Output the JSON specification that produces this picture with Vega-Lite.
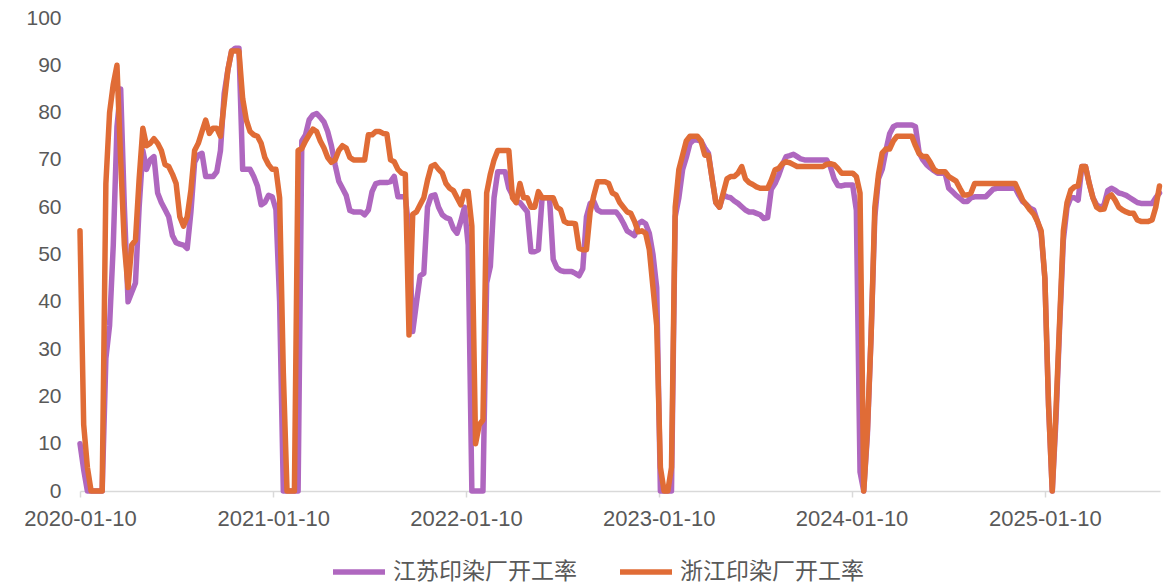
{
"$schema":"https://vega.github.io/schema/vega-lite/v6.json",
"width":1080,"height":473,
"autosize":{"type":"none"},
"padding":{"left":80,"top":18,"right":14,"bottom":92},
"background":"white",
"config":{"view":{"stroke":null},"font":"Liberation Sans"},
"data":{"values":[
{"date":"2020-01-10","jiangsu":10,"zhejiang":55},
{"date":"2020-01-17","jiangsu":4.5,"zhejiang":14},
{"date":"2020-01-24","jiangsu":0,"zhejiang":5},
{"date":"2020-01-31","jiangsu":0,"zhejiang":0},
{"date":"2020-02-07","jiangsu":0,"zhejiang":0},
{"date":"2020-02-14","jiangsu":0,"zhejiang":0},
{"date":"2020-02-21","jiangsu":0,"zhejiang":0},
{"date":"2020-02-28","jiangsu":28,"zhejiang":65},
{"date":"2020-03-06","jiangsu":35,"zhejiang":80},
{"date":"2020-03-13","jiangsu":52,"zhejiang":86},
{"date":"2020-03-20","jiangsu":77,"zhejiang":90},
{"date":"2020-03-27","jiangsu":85,"zhejiang":70},
{"date":"2020-04-03","jiangsu":60,"zhejiang":52},
{"date":"2020-04-10","jiangsu":40,"zhejiang":43},
{"date":"2020-04-17","jiangsu":42,"zhejiang":52},
{"date":"2020-04-24","jiangsu":44,"zhejiang":53},
{"date":"2020-05-01","jiangsu":60,"zhejiang":66},
{"date":"2020-05-08","jiangsu":72,"zhejiang":76.7},
{"date":"2020-05-15","jiangsu":68,"zhejiang":73},
{"date":"2020-05-22","jiangsu":70,"zhejiang":73.5},
{"date":"2020-05-29","jiangsu":70.7,"zhejiang":74.5},
{"date":"2020-06-05","jiangsu":63,"zhejiang":73.5},
{"date":"2020-06-12","jiangsu":61,"zhejiang":72},
{"date":"2020-06-19","jiangsu":59.5,"zhejiang":69},
{"date":"2020-06-26","jiangsu":58,"zhejiang":68.6},
{"date":"2020-07-03","jiangsu":54,"zhejiang":67},
{"date":"2020-07-10","jiangsu":52.5,"zhejiang":65},
{"date":"2020-07-17","jiangsu":52.2,"zhejiang":58},
{"date":"2020-07-24","jiangsu":52,"zhejiang":56},
{"date":"2020-07-31","jiangsu":51.3,"zhejiang":58},
{"date":"2020-08-07","jiangsu":59,"zhejiang":63.6},
{"date":"2020-08-14","jiangsu":69.5,"zhejiang":72},
{"date":"2020-08-21","jiangsu":71,"zhejiang":73.5},
{"date":"2020-08-28","jiangsu":71.4,"zhejiang":76},
{"date":"2020-09-04","jiangsu":66.5,"zhejiang":78.4},
{"date":"2020-09-11","jiangsu":66.5,"zhejiang":75.6},
{"date":"2020-09-18","jiangsu":66.5,"zhejiang":76.7},
{"date":"2020-09-25","jiangsu":67.5,"zhejiang":76.7},
{"date":"2020-10-02","jiangsu":72,"zhejiang":75},
{"date":"2020-10-09","jiangsu":84,"zhejiang":82},
{"date":"2020-10-16","jiangsu":89,"zhejiang":89},
{"date":"2020-10-23","jiangsu":93,"zhejiang":93},
{"date":"2020-10-30","jiangsu":93.6,"zhejiang":93},
{"date":"2020-11-06","jiangsu":93.6,"zhejiang":93},
{"date":"2020-11-13","jiangsu":68,"zhejiang":83},
{"date":"2020-11-20","jiangsu":68,"zhejiang":78.4},
{"date":"2020-11-27","jiangsu":68,"zhejiang":76},
{"date":"2020-12-04","jiangsu":66.5,"zhejiang":75.3},
{"date":"2020-12-11","jiangsu":64.5,"zhejiang":75},
{"date":"2020-12-18","jiangsu":60.5,"zhejiang":73.5},
{"date":"2020-12-25","jiangsu":61,"zhejiang":70.5},
{"date":"2021-01-01","jiangsu":62.5,"zhejiang":69},
{"date":"2021-01-08","jiangsu":62.2,"zhejiang":68},
{"date":"2021-01-15","jiangsu":59.5,"zhejiang":68},
{"date":"2021-01-22","jiangsu":40,"zhejiang":62},
{"date":"2021-01-29","jiangsu":0,"zhejiang":25},
{"date":"2021-02-05","jiangsu":0,"zhejiang":0},
{"date":"2021-02-12","jiangsu":0,"zhejiang":0},
{"date":"2021-02-19","jiangsu":0,"zhejiang":0},
{"date":"2021-02-26","jiangsu":0,"zhejiang":72},
{"date":"2021-03-05","jiangsu":74,"zhejiang":72.4},
{"date":"2021-03-12","jiangsu":75.3,"zhejiang":74},
{"date":"2021-03-19","jiangsu":78.5,"zhejiang":75.3},
{"date":"2021-03-26","jiangsu":79.5,"zhejiang":76.5},
{"date":"2021-04-02","jiangsu":79.8,"zhejiang":76},
{"date":"2021-04-09","jiangsu":79,"zhejiang":74},
{"date":"2021-04-16","jiangsu":78,"zhejiang":72.5},
{"date":"2021-04-23","jiangsu":76,"zhejiang":70.5},
{"date":"2021-04-30","jiangsu":73,"zhejiang":69.5},
{"date":"2021-05-07","jiangsu":69,"zhejiang":70},
{"date":"2021-05-14","jiangsu":65.5,"zhejiang":72},
{"date":"2021-05-21","jiangsu":64,"zhejiang":73},
{"date":"2021-05-28","jiangsu":62.5,"zhejiang":72.5},
{"date":"2021-06-04","jiangsu":59.3,"zhejiang":70.5},
{"date":"2021-06-11","jiangsu":59,"zhejiang":70},
{"date":"2021-06-18","jiangsu":59,"zhejiang":70},
{"date":"2021-06-25","jiangsu":59,"zhejiang":70},
{"date":"2021-07-02","jiangsu":58.4,"zhejiang":70},
{"date":"2021-07-09","jiangsu":59.4,"zhejiang":75.3},
{"date":"2021-07-16","jiangsu":63.3,"zhejiang":75.3},
{"date":"2021-07-23","jiangsu":65,"zhejiang":76},
{"date":"2021-07-30","jiangsu":65.2,"zhejiang":76},
{"date":"2021-08-06","jiangsu":65.2,"zhejiang":75.6},
{"date":"2021-08-13","jiangsu":65.2,"zhejiang":75.5},
{"date":"2021-08-20","jiangsu":65.4,"zhejiang":70},
{"date":"2021-08-27","jiangsu":66.5,"zhejiang":69.6},
{"date":"2021-09-03","jiangsu":62.2,"zhejiang":68},
{"date":"2021-09-10","jiangsu":62.2,"zhejiang":67.2},
{"date":"2021-09-17","jiangsu":62.2,"zhejiang":67},
{"date":"2021-09-24","jiangsu":55,"zhejiang":33},
{"date":"2021-10-01","jiangsu":33.7,"zhejiang":58.5},
{"date":"2021-10-08","jiangsu":39.7,"zhejiang":59},
{"date":"2021-10-15","jiangsu":45.5,"zhejiang":60.5},
{"date":"2021-10-22","jiangsu":46,"zhejiang":62},
{"date":"2021-10-29","jiangsu":60,"zhejiang":65.7},
{"date":"2021-11-05","jiangsu":62.4,"zhejiang":68.6},
{"date":"2021-11-12","jiangsu":62.6,"zhejiang":69},
{"date":"2021-11-19","jiangsu":60,"zhejiang":68},
{"date":"2021-11-26","jiangsu":58.4,"zhejiang":67.2},
{"date":"2021-12-03","jiangsu":57.8,"zhejiang":65},
{"date":"2021-12-10","jiangsu":57.5,"zhejiang":64},
{"date":"2021-12-17","jiangsu":55.5,"zhejiang":63.5},
{"date":"2021-12-24","jiangsu":54.5,"zhejiang":62},
{"date":"2021-12-31","jiangsu":57,"zhejiang":60.5},
{"date":"2022-01-07","jiangsu":60,"zhejiang":63.3},
{"date":"2022-01-14","jiangsu":52,"zhejiang":63.3},
{"date":"2022-01-21","jiangsu":0,"zhejiang":56},
{"date":"2022-01-28","jiangsu":0,"zhejiang":10},
{"date":"2022-02-04","jiangsu":0,"zhejiang":14},
{"date":"2022-02-11","jiangsu":0,"zhejiang":15},
{"date":"2022-02-18","jiangsu":44,"zhejiang":63},
{"date":"2022-02-25","jiangsu":47.5,"zhejiang":67},
{"date":"2022-03-04","jiangsu":62,"zhejiang":70},
{"date":"2022-03-11","jiangsu":67.5,"zhejiang":72},
{"date":"2022-03-18","jiangsu":67.5,"zhejiang":72},
{"date":"2022-03-25","jiangsu":67.5,"zhejiang":72},
{"date":"2022-04-01","jiangsu":64,"zhejiang":72},
{"date":"2022-04-08","jiangsu":62.5,"zhejiang":62},
{"date":"2022-04-15","jiangsu":61,"zhejiang":61},
{"date":"2022-04-22","jiangsu":61,"zhejiang":65},
{"date":"2022-04-29","jiangsu":60,"zhejiang":62},
{"date":"2022-05-06","jiangsu":59,"zhejiang":62},
{"date":"2022-05-13","jiangsu":50.6,"zhejiang":60},
{"date":"2022-05-20","jiangsu":50.6,"zhejiang":60},
{"date":"2022-05-27","jiangsu":51,"zhejiang":63.3},
{"date":"2022-06-03","jiangsu":62,"zhejiang":62},
{"date":"2022-06-10","jiangsu":62,"zhejiang":62},
{"date":"2022-06-17","jiangsu":62,"zhejiang":62},
{"date":"2022-06-24","jiangsu":49,"zhejiang":62},
{"date":"2022-07-01","jiangsu":47.2,"zhejiang":60},
{"date":"2022-07-08","jiangsu":46.6,"zhejiang":59.5},
{"date":"2022-07-15","jiangsu":46.4,"zhejiang":57},
{"date":"2022-07-22","jiangsu":46.4,"zhejiang":56.6},
{"date":"2022-07-29","jiangsu":46.4,"zhejiang":56.6},
{"date":"2022-08-05","jiangsu":46,"zhejiang":56.5},
{"date":"2022-08-12","jiangsu":45.5,"zhejiang":51.3},
{"date":"2022-08-19","jiangsu":47,"zhejiang":51},
{"date":"2022-08-26","jiangsu":58,"zhejiang":51},
{"date":"2022-09-02","jiangsu":60.8,"zhejiang":59},
{"date":"2022-09-09","jiangsu":61.2,"zhejiang":62.5},
{"date":"2022-09-16","jiangsu":59.4,"zhejiang":65.4},
{"date":"2022-09-23","jiangsu":59,"zhejiang":65.4},
{"date":"2022-09-30","jiangsu":59,"zhejiang":65.4},
{"date":"2022-10-07","jiangsu":59,"zhejiang":65},
{"date":"2022-10-14","jiangsu":59,"zhejiang":63},
{"date":"2022-10-21","jiangsu":59,"zhejiang":62.6},
{"date":"2022-10-28","jiangsu":58,"zhejiang":61},
{"date":"2022-11-04","jiangsu":56.6,"zhejiang":60},
{"date":"2022-11-11","jiangsu":55,"zhejiang":59},
{"date":"2022-11-18","jiangsu":54.5,"zhejiang":58.7},
{"date":"2022-11-25","jiangsu":54,"zhejiang":57},
{"date":"2022-12-02","jiangsu":56.5,"zhejiang":54.8},
{"date":"2022-12-09","jiangsu":57,"zhejiang":55},
{"date":"2022-12-16","jiangsu":56.5,"zhejiang":54.5},
{"date":"2022-12-23","jiangsu":54.5,"zhejiang":51},
{"date":"2022-12-30","jiangsu":50,"zhejiang":43},
{"date":"2023-01-06","jiangsu":43,"zhejiang":35},
{"date":"2023-01-13","jiangsu":0,"zhejiang":5},
{"date":"2023-01-20","jiangsu":0,"zhejiang":0},
{"date":"2023-01-27","jiangsu":0,"zhejiang":0},
{"date":"2023-02-03","jiangsu":0,"zhejiang":5},
{"date":"2023-02-10","jiangsu":58,"zhejiang":60},
{"date":"2023-02-17","jiangsu":62,"zhejiang":68},
{"date":"2023-02-24","jiangsu":67.9,"zhejiang":71},
{"date":"2023-03-03","jiangsu":70.5,"zhejiang":74},
{"date":"2023-03-10","jiangsu":73.5,"zhejiang":75},
{"date":"2023-03-17","jiangsu":74.2,"zhejiang":75},
{"date":"2023-03-24","jiangsu":74.2,"zhejiang":75},
{"date":"2023-03-31","jiangsu":74,"zhejiang":74},
{"date":"2023-04-07","jiangsu":72.5,"zhejiang":71},
{"date":"2023-04-14","jiangsu":71.4,"zhejiang":71},
{"date":"2023-04-21","jiangsu":66,"zhejiang":66},
{"date":"2023-04-28","jiangsu":61,"zhejiang":61},
{"date":"2023-05-05","jiangsu":60,"zhejiang":60},
{"date":"2023-05-12","jiangsu":62.6,"zhejiang":63},
{"date":"2023-05-19","jiangsu":62.2,"zhejiang":66},
{"date":"2023-05-26","jiangsu":62,"zhejiang":66.5},
{"date":"2023-06-02","jiangsu":61.3,"zhejiang":66.5},
{"date":"2023-06-09","jiangsu":60.8,"zhejiang":67.2},
{"date":"2023-06-16","jiangsu":60.1,"zhejiang":68.6},
{"date":"2023-06-23","jiangsu":59.4,"zhejiang":66},
{"date":"2023-06-30","jiangsu":59,"zhejiang":65.2},
{"date":"2023-07-07","jiangsu":59,"zhejiang":64.8},
{"date":"2023-07-14","jiangsu":58.7,"zhejiang":64.3},
{"date":"2023-07-21","jiangsu":58.4,"zhejiang":64},
{"date":"2023-07-28","jiangsu":57.6,"zhejiang":64},
{"date":"2023-08-04","jiangsu":57.8,"zhejiang":64},
{"date":"2023-08-11","jiangsu":63.8,"zhejiang":65.7},
{"date":"2023-08-18","jiangsu":65,"zhejiang":67.9},
{"date":"2023-08-25","jiangsu":66.8,"zhejiang":68.2},
{"date":"2023-09-01","jiangsu":69,"zhejiang":69.2},
{"date":"2023-09-08","jiangsu":70.7,"zhejiang":69.6},
{"date":"2023-09-15","jiangsu":70.9,"zhejiang":69.4},
{"date":"2023-09-22","jiangsu":71.2,"zhejiang":69},
{"date":"2023-09-29","jiangsu":70.7,"zhejiang":68.6},
{"date":"2023-10-06","jiangsu":70.2,"zhejiang":68.6},
{"date":"2023-10-13","jiangsu":70,"zhejiang":68.6},
{"date":"2023-10-20","jiangsu":70,"zhejiang":68.6},
{"date":"2023-10-27","jiangsu":70,"zhejiang":68.6},
{"date":"2023-11-03","jiangsu":70,"zhejiang":68.6},
{"date":"2023-11-10","jiangsu":70,"zhejiang":68.6},
{"date":"2023-11-17","jiangsu":70,"zhejiang":68.6},
{"date":"2023-11-24","jiangsu":70,"zhejiang":69.1},
{"date":"2023-12-01","jiangsu":68.5,"zhejiang":69.2},
{"date":"2023-12-08","jiangsu":66,"zhejiang":69},
{"date":"2023-12-15","jiangsu":64.6,"zhejiang":68.2},
{"date":"2023-12-22","jiangsu":64.5,"zhejiang":67.2},
{"date":"2023-12-29","jiangsu":64.7,"zhejiang":67.2},
{"date":"2024-01-05","jiangsu":64.7,"zhejiang":67.2},
{"date":"2024-01-12","jiangsu":64.7,"zhejiang":67.2},
{"date":"2024-01-19","jiangsu":59.4,"zhejiang":66.5},
{"date":"2024-01-26","jiangsu":4,"zhejiang":63},
{"date":"2024-02-02","jiangsu":0,"zhejiang":0},
{"date":"2024-02-09","jiangsu":12,"zhejiang":13},
{"date":"2024-02-16","jiangsu":33,"zhejiang":33},
{"date":"2024-02-23","jiangsu":58,"zhejiang":60},
{"date":"2024-03-01","jiangsu":66,"zhejiang":67},
{"date":"2024-03-08","jiangsu":68,"zhejiang":71.5},
{"date":"2024-03-15","jiangsu":72,"zhejiang":72.3},
{"date":"2024-03-22","jiangsu":75.5,"zhejiang":72.3},
{"date":"2024-03-29","jiangsu":77,"zhejiang":74},
{"date":"2024-04-05","jiangsu":77.4,"zhejiang":75},
{"date":"2024-04-12","jiangsu":77.4,"zhejiang":75},
{"date":"2024-04-19","jiangsu":77.4,"zhejiang":75},
{"date":"2024-04-26","jiangsu":77.4,"zhejiang":75},
{"date":"2024-05-03","jiangsu":77.4,"zhejiang":75},
{"date":"2024-05-10","jiangsu":77,"zhejiang":73},
{"date":"2024-05-17","jiangsu":71.5,"zhejiang":71.3},
{"date":"2024-05-24","jiangsu":70,"zhejiang":70.7},
{"date":"2024-05-31","jiangsu":69,"zhejiang":70.7},
{"date":"2024-06-07","jiangsu":68.3,"zhejiang":69.5},
{"date":"2024-06-14","jiangsu":67.7,"zhejiang":68},
{"date":"2024-06-21","jiangsu":67.2,"zhejiang":67.5},
{"date":"2024-06-28","jiangsu":67.2,"zhejiang":67.5},
{"date":"2024-07-05","jiangsu":67.2,"zhejiang":67.5},
{"date":"2024-07-12","jiangsu":64,"zhejiang":66.5},
{"date":"2024-07-19","jiangsu":63.3,"zhejiang":66},
{"date":"2024-07-26","jiangsu":62.5,"zhejiang":65.5},
{"date":"2024-08-02","jiangsu":61.9,"zhejiang":64},
{"date":"2024-08-09","jiangsu":61.2,"zhejiang":62.6},
{"date":"2024-08-16","jiangsu":61.2,"zhejiang":62.6},
{"date":"2024-08-23","jiangsu":62,"zhejiang":63},
{"date":"2024-08-30","jiangsu":62.2,"zhejiang":65},
{"date":"2024-09-06","jiangsu":62.2,"zhejiang":65},
{"date":"2024-09-13","jiangsu":62.2,"zhejiang":65},
{"date":"2024-09-20","jiangsu":62.2,"zhejiang":65},
{"date":"2024-09-27","jiangsu":63,"zhejiang":65},
{"date":"2024-10-04","jiangsu":63.8,"zhejiang":65},
{"date":"2024-10-11","jiangsu":64,"zhejiang":65},
{"date":"2024-10-18","jiangsu":64,"zhejiang":65},
{"date":"2024-10-25","jiangsu":64,"zhejiang":65},
{"date":"2024-11-01","jiangsu":64,"zhejiang":65},
{"date":"2024-11-08","jiangsu":64,"zhejiang":65},
{"date":"2024-11-15","jiangsu":64,"zhejiang":65},
{"date":"2024-11-22","jiangsu":62.5,"zhejiang":63.3},
{"date":"2024-11-29","jiangsu":61.2,"zhejiang":61.5},
{"date":"2024-12-06","jiangsu":60.6,"zhejiang":60.5},
{"date":"2024-12-13","jiangsu":59.8,"zhejiang":59.4},
{"date":"2024-12-20","jiangsu":59.4,"zhejiang":58.5},
{"date":"2024-12-27","jiangsu":57,"zhejiang":57},
{"date":"2025-01-03","jiangsu":54.5,"zhejiang":55},
{"date":"2025-01-10","jiangsu":45,"zhejiang":45},
{"date":"2025-01-17","jiangsu":18,"zhejiang":18},
{"date":"2025-01-24","jiangsu":0,"zhejiang":0},
{"date":"2025-01-31","jiangsu":15,"zhejiang":17},
{"date":"2025-02-07","jiangsu":35,"zhejiang":36},
{"date":"2025-02-14","jiangsu":53,"zhejiang":55},
{"date":"2025-02-21","jiangsu":60,"zhejiang":61},
{"date":"2025-02-28","jiangsu":62,"zhejiang":63.6},
{"date":"2025-03-07","jiangsu":62,"zhejiang":64.3},
{"date":"2025-03-14","jiangsu":61.5,"zhejiang":64.5},
{"date":"2025-03-21","jiangsu":68.6,"zhejiang":68.6},
{"date":"2025-03-28","jiangsu":68.6,"zhejiang":68.6},
{"date":"2025-04-04","jiangsu":65,"zhejiang":65},
{"date":"2025-04-11","jiangsu":62,"zhejiang":62},
{"date":"2025-04-18","jiangsu":60.5,"zhejiang":60},
{"date":"2025-04-25","jiangsu":60,"zhejiang":59.5},
{"date":"2025-05-02","jiangsu":60.5,"zhejiang":59.6},
{"date":"2025-05-09","jiangsu":63.5,"zhejiang":62},
{"date":"2025-05-16","jiangsu":64,"zhejiang":62.6},
{"date":"2025-05-23","jiangsu":63.6,"zhejiang":61.5},
{"date":"2025-05-30","jiangsu":63,"zhejiang":60},
{"date":"2025-06-06","jiangsu":62.8,"zhejiang":59.4},
{"date":"2025-06-13","jiangsu":62.5,"zhejiang":59},
{"date":"2025-06-20","jiangsu":62,"zhejiang":58.7},
{"date":"2025-06-27","jiangsu":61.5,"zhejiang":58.7},
{"date":"2025-07-04","jiangsu":61,"zhejiang":57.3},
{"date":"2025-07-11","jiangsu":60.8,"zhejiang":57},
{"date":"2025-07-18","jiangsu":60.8,"zhejiang":57},
{"date":"2025-07-25","jiangsu":60.8,"zhejiang":57},
{"date":"2025-08-01","jiangsu":60.8,"zhejiang":57.3},
{"date":"2025-08-08","jiangsu":62,"zhejiang":60},
{"date":"2025-08-15","jiangsu":63,"zhejiang":64.5}
]},
"encoding":{
"x":{"field":"date","type":"temporal","title":null,
"scale":{"type":"utc","domain":[{"year":2020,"month":1,"date":10,"utc":true},{"year":2025,"month":8,"date":16,"utc":true}]},
"axis":{"values":[{"year":2020,"month":1,"date":10,"utc":true},{"year":2021,"month":1,"date":10,"utc":true},{"year":2022,"month":1,"date":10,"utc":true},{"year":2023,"month":1,"date":10,"utc":true},{"year":2024,"month":1,"date":10,"utc":true},{"year":2025,"month":1,"date":10,"utc":true}],
"format":"%Y-%m-%d","grid":false,"domainColor":"#d9d9d9","domainWidth":1.5,"tickColor":"#d9d9d9","tickWidth":1.5,"tickSize":6,
"labelFontSize":22,"labelColor":"#595959","labelPadding":11,"labelFlush":false,"labelOverlap":false,"labelFont":"Liberation Sans"}}
},
"layer":[
{"mark":{"type":"line","strokeWidth":5.5,"strokeJoin":"round","strokeCap":"round"},
"encoding":{
"y":{"field":"jiangsu","type":"quantitative","title":null,"scale":{"domain":[0,100]},
"axis":{"values":[0,10,20,30,40,50,60,70,80,90,100],"grid":false,"domain":false,"ticks":false,"tickSize":0,"labelPadding":19,"labelFontSize":21,"labelColor":"#595959","labelFont":"Liberation Sans"}},
"color":{"datum":"江苏印染厂开工率","type":"nominal",
"scale":{"domain":["江苏印染厂开工率","浙江印染厂开工率"],"range":["#AF67BF","#E06C36"]},
"legend":{"title":null,"orient":"none","direction":"horizontal","legendX":250,"legendY":525,"symbolType":"stroke","symbolSize":2704,"symbolStrokeWidth":5.5,"labelFontSize":23,"labelLimit":400,"labelFont":"Noto Sans CJK SC","labelColor":"#595959","labelOffset":5,"columnPadding":32,"padding":0}}
}},
{"mark":{"type":"line","strokeWidth":5.5,"strokeJoin":"round","strokeCap":"round"},
"encoding":{
"y":{"field":"zhejiang","type":"quantitative","title":null},
"color":{"datum":"浙江印染厂开工率","type":"nominal"}
}}
]
}
